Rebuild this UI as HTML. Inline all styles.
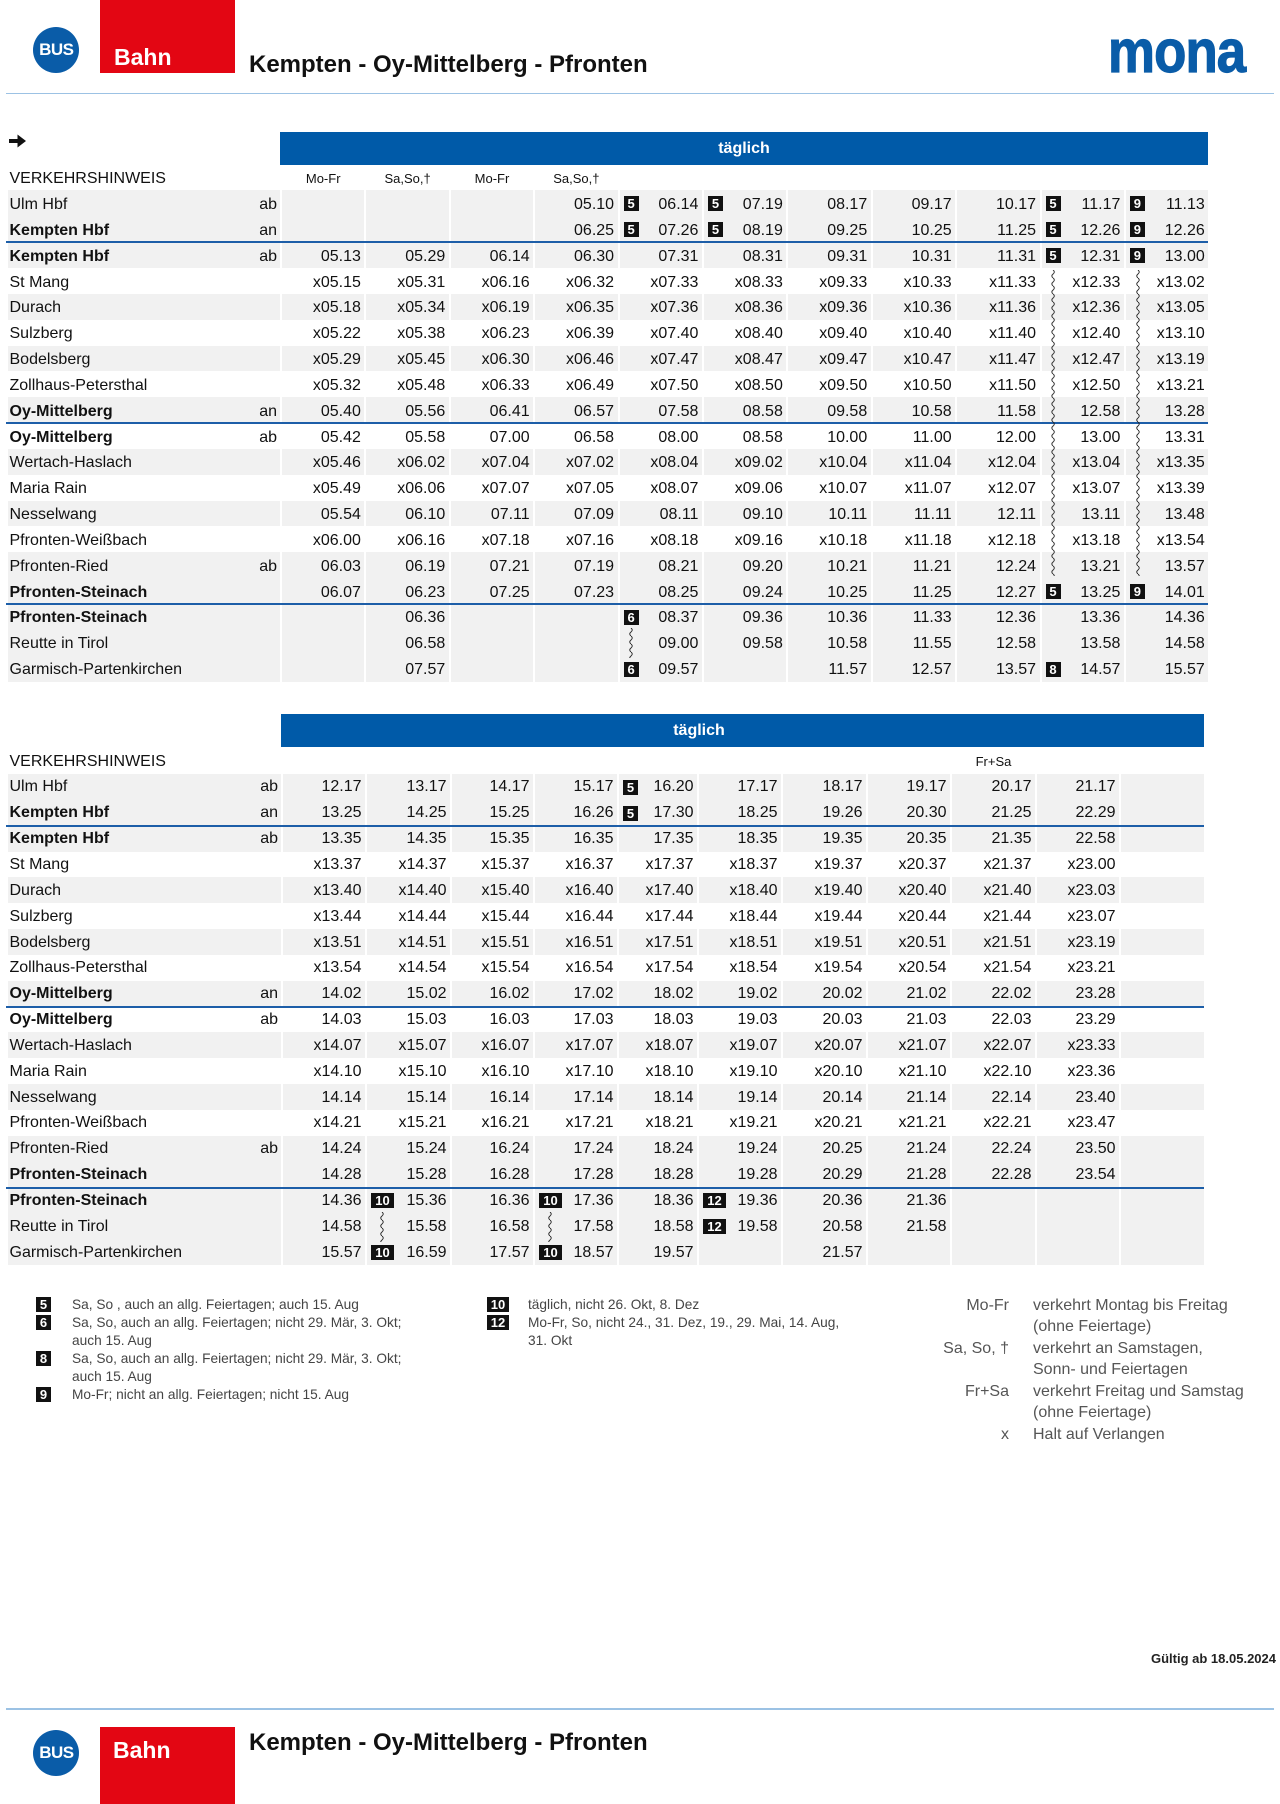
<!DOCTYPE html>
<html lang="de">
<head>
<meta charset="utf-8">
<style>
html,body{margin:0;padding:0}
body{width:1280px;height:1804px;position:relative;background:#fff;overflow:hidden;font-family:"Liberation Sans",Arial,sans-serif;color:#111}
.a{position:absolute}
.t{position:absolute;left:8px;font-size:16px}
.r{display:flex;height:25.85px}
.r>div{flex:none;box-sizing:border-box;height:25.85px;line-height:25.85px;padding-top:1.5px;white-space:nowrap;position:relative}
.t2 .r>div{padding-top:0.5px}
.s{width:272px;display:flex;justify-content:space-between;padding-left:1.5px;padding-right:3px}
.t2 .s{width:273px}
.c{width:84.4px;border-left:2px solid #fff;text-align:right;padding-right:3.5px}
.t2 .c:nth-child(2){width:84px}
.t2 .c:nth-child(3){width:85px}
.t2 .c:nth-child(4){width:83px}
.t2 .c:nth-child(5){width:84px}
.t2 .c:nth-child(6){width:80px}
.t2 .c:nth-child(7){width:84px}
.t2 .c:nth-child(8){width:85px}
.t2 .c:nth-child(9){width:84px}
.t2 .c:nth-child(10){width:85px}
.t2 .c:nth-child(11){width:84px}
.t2 .c:nth-child(12){width:85px}
.g>div{background:#f1f1f1}
.hr .c{text-align:center;padding-right:0;font-size:13px}
.bn{font-weight:bold}
.n{position:absolute;left:4px;top:6px;width:15px;height:15px;background:#111;color:#fff;font:bold 13px/15px "Liberation Sans",Arial,sans-serif;text-align:center}
.n.d{width:23px;height:15.5px;top:5.5px;line-height:15.5px}
.bar{position:absolute;background:#005aa8;height:33px;color:#fff;font-weight:bold;font-size:16px;line-height:33px;text-align:center}
.bl{position:absolute;height:2px;background:#1d5ea8}
.fn{position:absolute;font-size:13.7px;line-height:18px;color:#444;white-space:nowrap}
.fb{position:absolute;background:#111;color:#fff;font:bold 13px/15px "Liberation Sans",Arial,sans-serif;text-align:center;height:15px;width:15px}
.lg{position:absolute;font-size:16px;line-height:21.45px;color:#555;white-space:nowrap}
</style>
</head>
<body>

<!-- HEADER -->
<div class="a" style="left:33.3px;top:27px;width:46px;height:46px;border-radius:50%;background:#0a5ca8;color:#fff;font-weight:bold;font-size:17px;line-height:46px;text-align:center;letter-spacing:-0.5px">BUS</div>
<div class="a" style="left:100px;top:0;width:135px;height:73px;background:#e30613"></div>
<div class="a" style="left:114px;top:45.5px;color:#fff;font-weight:bold;font-size:23px;line-height:23px">Bahn</div>
<div class="a" style="left:249px;top:52.7px;font-weight:bold;font-size:24px;line-height:24px;color:#111;white-space:nowrap">Kempten - Oy-Mittelberg - Pfronten</div>
<div class="a" style="left:1108px;top:22.2px;font-weight:bold;font-size:60px;line-height:60px;color:#0a5ca8;-webkit-text-stroke:1.2px #0a5ca8;transform:scaleX(0.88);transform-origin:0 0;letter-spacing:-1px">mona</div>
<div class="a" style="left:6px;top:92.5px;width:1268px;height:1.5px;background:#9cc2e4"></div>

<svg class="a" style="left:0;top:0" width="40" height="160">
<polygon points="9,139 17.5,139 17.5,134.5 26,141 17.5,147.5 17.5,143 9,143" fill="#111"/>
</svg>

<!-- TABLE 1 -->
<div class="bar" style="left:280px;top:132px;width:928px">täglich</div>

<div class="t t1" style="top:164.65px">
<div class="r hr"><div class="s"><span>VERKEHRSHINWEIS</span></div><div class="c">Mo-Fr</div><div class="c">Sa,So,†</div><div class="c">Mo-Fr</div><div class="c">Sa,So,†</div><div class="c"></div><div class="c"></div><div class="c"></div><div class="c"></div><div class="c"></div><div class="c"></div><div class="c"></div></div>

<div class="r g"><div class="s"><span>Ulm Hbf</span><span>ab</span></div><div class="c"></div><div class="c"></div><div class="c"></div><div class="c">05.10</div><div class="c"><span class="n">5</span>06.14</div><div class="c"><span class="n">5</span>07.19</div><div class="c">08.17</div><div class="c">09.17</div><div class="c">10.17</div><div class="c"><span class="n">5</span>11.17</div><div class="c"><span class="n">9</span>11.13</div></div>

<div class="r g"><div class="s"><span class="bn">Kempten Hbf</span><span>an</span></div><div class="c"></div><div class="c"></div><div class="c"></div><div class="c">06.25</div><div class="c"><span class="n">5</span>07.26</div><div class="c"><span class="n">5</span>08.19</div><div class="c">09.25</div><div class="c">10.25</div><div class="c">11.25</div><div class="c"><span class="n">5</span>12.26</div><div class="c"><span class="n">9</span>12.26</div></div>

<div class="r g"><div class="s"><span class="bn">Kempten Hbf</span><span>ab</span></div><div class="c">05.13</div><div class="c">05.29</div><div class="c">06.14</div><div class="c">06.30</div><div class="c">07.31</div><div class="c">08.31</div><div class="c">09.31</div><div class="c">10.31</div><div class="c">11.31</div><div class="c"><span class="n">5</span>12.31</div><div class="c"><span class="n">9</span>13.00</div></div>

<div class="r"><div class="s"><span>St Mang</span></div><div class="c">x05.15</div><div class="c">x05.31</div><div class="c">x06.16</div><div class="c">x06.32</div><div class="c">x07.33</div><div class="c">x08.33</div><div class="c">x09.33</div><div class="c">x10.33</div><div class="c">x11.33</div><div class="c">x12.33</div><div class="c">x13.02</div></div>

<div class="r g"><div class="s"><span>Durach</span></div><div class="c">x05.18</div><div class="c">x05.34</div><div class="c">x06.19</div><div class="c">x06.35</div><div class="c">x07.36</div><div class="c">x08.36</div><div class="c">x09.36</div><div class="c">x10.36</div><div class="c">x11.36</div><div class="c">x12.36</div><div class="c">x13.05</div></div>

<div class="r"><div class="s"><span>Sulzberg</span></div><div class="c">x05.22</div><div class="c">x05.38</div><div class="c">x06.23</div><div class="c">x06.39</div><div class="c">x07.40</div><div class="c">x08.40</div><div class="c">x09.40</div><div class="c">x10.40</div><div class="c">x11.40</div><div class="c">x12.40</div><div class="c">x13.10</div></div>

<div class="r g"><div class="s"><span>Bodelsberg</span></div><div class="c">x05.29</div><div class="c">x05.45</div><div class="c">x06.30</div><div class="c">x06.46</div><div class="c">x07.47</div><div class="c">x08.47</div><div class="c">x09.47</div><div class="c">x10.47</div><div class="c">x11.47</div><div class="c">x12.47</div><div class="c">x13.19</div></div>

<div class="r"><div class="s"><span>Zollhaus-Petersthal</span></div><div class="c">x05.32</div><div class="c">x05.48</div><div class="c">x06.33</div><div class="c">x06.49</div><div class="c">x07.50</div><div class="c">x08.50</div><div class="c">x09.50</div><div class="c">x10.50</div><div class="c">x11.50</div><div class="c">x12.50</div><div class="c">x13.21</div></div>

<div class="r g"><div class="s"><span class="bn">Oy-Mittelberg</span><span>an</span></div><div class="c">05.40</div><div class="c">05.56</div><div class="c">06.41</div><div class="c">06.57</div><div class="c">07.58</div><div class="c">08.58</div><div class="c">09.58</div><div class="c">10.58</div><div class="c">11.58</div><div class="c">12.58</div><div class="c">13.28</div></div>

<div class="r"><div class="s"><span class="bn">Oy-Mittelberg</span><span>ab</span></div><div class="c">05.42</div><div class="c">05.58</div><div class="c">07.00</div><div class="c">06.58</div><div class="c">08.00</div><div class="c">08.58</div><div class="c">10.00</div><div class="c">11.00</div><div class="c">12.00</div><div class="c">13.00</div><div class="c">13.31</div></div>

<div class="r g"><div class="s"><span>Wertach-Haslach</span></div><div class="c">x05.46</div><div class="c">x06.02</div><div class="c">x07.04</div><div class="c">x07.02</div><div class="c">x08.04</div><div class="c">x09.02</div><div class="c">x10.04</div><div class="c">x11.04</div><div class="c">x12.04</div><div class="c">x13.04</div><div class="c">x13.35</div></div>

<div class="r"><div class="s"><span>Maria Rain</span></div><div class="c">x05.49</div><div class="c">x06.06</div><div class="c">x07.07</div><div class="c">x07.05</div><div class="c">x08.07</div><div class="c">x09.06</div><div class="c">x10.07</div><div class="c">x11.07</div><div class="c">x12.07</div><div class="c">x13.07</div><div class="c">x13.39</div></div>

<div class="r g"><div class="s"><span>Nesselwang</span></div><div class="c">05.54</div><div class="c">06.10</div><div class="c">07.11</div><div class="c">07.09</div><div class="c">08.11</div><div class="c">09.10</div><div class="c">10.11</div><div class="c">11.11</div><div class="c">12.11</div><div class="c">13.11</div><div class="c">13.48</div></div>

<div class="r"><div class="s"><span>Pfronten-Weißbach</span></div><div class="c">x06.00</div><div class="c">x06.16</div><div class="c">x07.18</div><div class="c">x07.16</div><div class="c">x08.18</div><div class="c">x09.16</div><div class="c">x10.18</div><div class="c">x11.18</div><div class="c">x12.18</div><div class="c">x13.18</div><div class="c">x13.54</div></div>

<div class="r g"><div class="s"><span>Pfronten-Ried</span><span>ab</span></div><div class="c">06.03</div><div class="c">06.19</div><div class="c">07.21</div><div class="c">07.19</div><div class="c">08.21</div><div class="c">09.20</div><div class="c">10.21</div><div class="c">11.21</div><div class="c">12.24</div><div class="c">13.21</div><div class="c">13.57</div></div>

<div class="r g"><div class="s"><span class="bn">Pfronten-Steinach</span></div><div class="c">06.07</div><div class="c">06.23</div><div class="c">07.25</div><div class="c">07.23</div><div class="c">08.25</div><div class="c">09.24</div><div class="c">10.25</div><div class="c">11.25</div><div class="c">12.27</div><div class="c"><span class="n">5</span>13.25</div><div class="c"><span class="n">9</span>14.01</div></div>

<div class="r g"><div class="s"><span class="bn">Pfronten-Steinach</span></div><div class="c"></div><div class="c">06.36</div><div class="c"></div><div class="c"></div><div class="c"><span class="n">6</span>08.37</div><div class="c">09.36</div><div class="c">10.36</div><div class="c">11.33</div><div class="c">12.36</div><div class="c">13.36</div><div class="c">14.36</div></div>

<div class="r g"><div class="s"><span>Reutte in Tirol</span></div><div class="c"></div><div class="c">06.58</div><div class="c"></div><div class="c"></div><div class="c">09.00</div><div class="c">09.58</div><div class="c">10.58</div><div class="c">11.55</div><div class="c">12.58</div><div class="c">13.58</div><div class="c">14.58</div></div>

<div class="r g"><div class="s"><span>Garmisch-Partenkirchen</span></div><div class="c"></div><div class="c">07.57</div><div class="c"></div><div class="c"></div><div class="c"><span class="n">6</span>09.57</div><div class="c"></div><div class="c">11.57</div><div class="c">12.57</div><div class="c">13.57</div><div class="c"><span class="n">8</span>14.57</div><div class="c">15.57</div></div>
</div>

<div class="bl" style="left:6px;top:241.2px;width:1202.4px"></div>
<div class="bl" style="left:6px;top:422.15px;width:1202.4px"></div>
<div class="bl" style="left:6px;top:603.1px;width:1202.4px"></div>

<!-- TABLE 2 -->
<div class="bar" style="left:281px;top:714px;width:923px"></div>
<div class="a" style="left:649px;top:714px;width:100px;height:33px;line-height:33px;text-align:center;color:#fff;font-weight:bold;font-size:16px">täglich</div>

<div class="t t2" style="top:748.15px">
<div class="r hr"><div class="s"><span>VERKEHRSHINWEIS</span></div><div class="c"></div><div class="c"></div><div class="c"></div><div class="c"></div><div class="c"></div><div class="c"></div><div class="c"></div><div class="c"></div><div class="c">Fr+Sa</div><div class="c"></div><div class="c"></div></div>

<div class="r g"><div class="s"><span>Ulm Hbf</span><span>ab</span></div><div class="c">12.17</div><div class="c">13.17</div><div class="c">14.17</div><div class="c">15.17</div><div class="c"><span class="n">5</span>16.20</div><div class="c">17.17</div><div class="c">18.17</div><div class="c">19.17</div><div class="c">20.17</div><div class="c">21.17</div><div class="c"></div></div>

<div class="r g"><div class="s"><span class="bn">Kempten Hbf</span><span>an</span></div><div class="c">13.25</div><div class="c">14.25</div><div class="c">15.25</div><div class="c">16.26</div><div class="c"><span class="n">5</span>17.30</div><div class="c">18.25</div><div class="c">19.26</div><div class="c">20.30</div><div class="c">21.25</div><div class="c">22.29</div><div class="c"></div></div>

<div class="r g"><div class="s"><span class="bn">Kempten Hbf</span><span>ab</span></div><div class="c">13.35</div><div class="c">14.35</div><div class="c">15.35</div><div class="c">16.35</div><div class="c">17.35</div><div class="c">18.35</div><div class="c">19.35</div><div class="c">20.35</div><div class="c">21.35</div><div class="c">22.58</div><div class="c"></div></div>

<div class="r"><div class="s"><span>St Mang</span></div><div class="c">x13.37</div><div class="c">x14.37</div><div class="c">x15.37</div><div class="c">x16.37</div><div class="c">x17.37</div><div class="c">x18.37</div><div class="c">x19.37</div><div class="c">x20.37</div><div class="c">x21.37</div><div class="c">x23.00</div><div class="c"></div></div>

<div class="r g"><div class="s"><span>Durach</span></div><div class="c">x13.40</div><div class="c">x14.40</div><div class="c">x15.40</div><div class="c">x16.40</div><div class="c">x17.40</div><div class="c">x18.40</div><div class="c">x19.40</div><div class="c">x20.40</div><div class="c">x21.40</div><div class="c">x23.03</div><div class="c"></div></div>

<div class="r"><div class="s"><span>Sulzberg</span></div><div class="c">x13.44</div><div class="c">x14.44</div><div class="c">x15.44</div><div class="c">x16.44</div><div class="c">x17.44</div><div class="c">x18.44</div><div class="c">x19.44</div><div class="c">x20.44</div><div class="c">x21.44</div><div class="c">x23.07</div><div class="c"></div></div>

<div class="r g"><div class="s"><span>Bodelsberg</span></div><div class="c">x13.51</div><div class="c">x14.51</div><div class="c">x15.51</div><div class="c">x16.51</div><div class="c">x17.51</div><div class="c">x18.51</div><div class="c">x19.51</div><div class="c">x20.51</div><div class="c">x21.51</div><div class="c">x23.19</div><div class="c"></div></div>

<div class="r"><div class="s"><span>Zollhaus-Petersthal</span></div><div class="c">x13.54</div><div class="c">x14.54</div><div class="c">x15.54</div><div class="c">x16.54</div><div class="c">x17.54</div><div class="c">x18.54</div><div class="c">x19.54</div><div class="c">x20.54</div><div class="c">x21.54</div><div class="c">x23.21</div><div class="c"></div></div>

<div class="r g"><div class="s"><span class="bn">Oy-Mittelberg</span><span>an</span></div><div class="c">14.02</div><div class="c">15.02</div><div class="c">16.02</div><div class="c">17.02</div><div class="c">18.02</div><div class="c">19.02</div><div class="c">20.02</div><div class="c">21.02</div><div class="c">22.02</div><div class="c">23.28</div><div class="c"></div></div>

<div class="r"><div class="s"><span class="bn">Oy-Mittelberg</span><span>ab</span></div><div class="c">14.03</div><div class="c">15.03</div><div class="c">16.03</div><div class="c">17.03</div><div class="c">18.03</div><div class="c">19.03</div><div class="c">20.03</div><div class="c">21.03</div><div class="c">22.03</div><div class="c">23.29</div><div class="c"></div></div>

<div class="r g"><div class="s"><span>Wertach-Haslach</span></div><div class="c">x14.07</div><div class="c">x15.07</div><div class="c">x16.07</div><div class="c">x17.07</div><div class="c">x18.07</div><div class="c">x19.07</div><div class="c">x20.07</div><div class="c">x21.07</div><div class="c">x22.07</div><div class="c">x23.33</div><div class="c"></div></div>

<div class="r"><div class="s"><span>Maria Rain</span></div><div class="c">x14.10</div><div class="c">x15.10</div><div class="c">x16.10</div><div class="c">x17.10</div><div class="c">x18.10</div><div class="c">x19.10</div><div class="c">x20.10</div><div class="c">x21.10</div><div class="c">x22.10</div><div class="c">x23.36</div><div class="c"></div></div>

<div class="r g"><div class="s"><span>Nesselwang</span></div><div class="c">14.14</div><div class="c">15.14</div><div class="c">16.14</div><div class="c">17.14</div><div class="c">18.14</div><div class="c">19.14</div><div class="c">20.14</div><div class="c">21.14</div><div class="c">22.14</div><div class="c">23.40</div><div class="c"></div></div>

<div class="r"><div class="s"><span>Pfronten-Weißbach</span></div><div class="c">x14.21</div><div class="c">x15.21</div><div class="c">x16.21</div><div class="c">x17.21</div><div class="c">x18.21</div><div class="c">x19.21</div><div class="c">x20.21</div><div class="c">x21.21</div><div class="c">x22.21</div><div class="c">x23.47</div><div class="c"></div></div>

<div class="r g"><div class="s"><span>Pfronten-Ried</span><span>ab</span></div><div class="c">14.24</div><div class="c">15.24</div><div class="c">16.24</div><div class="c">17.24</div><div class="c">18.24</div><div class="c">19.24</div><div class="c">20.25</div><div class="c">21.24</div><div class="c">22.24</div><div class="c">23.50</div><div class="c"></div></div>

<div class="r g"><div class="s"><span class="bn">Pfronten-Steinach</span></div><div class="c">14.28</div><div class="c">15.28</div><div class="c">16.28</div><div class="c">17.28</div><div class="c">18.28</div><div class="c">19.28</div><div class="c">20.29</div><div class="c">21.28</div><div class="c">22.28</div><div class="c">23.54</div><div class="c"></div></div>

<div class="r g"><div class="s"><span class="bn">Pfronten-Steinach</span></div><div class="c">14.36</div><div class="c"><span class="n d">10</span>15.36</div><div class="c">16.36</div><div class="c"><span class="n d">10</span>17.36</div><div class="c">18.36</div><div class="c"><span class="n d">12</span>19.36</div><div class="c">20.36</div><div class="c">21.36</div><div class="c"></div><div class="c"></div><div class="c"></div></div>

<div class="r g"><div class="s"><span>Reutte in Tirol</span></div><div class="c">14.58</div><div class="c">15.58</div><div class="c">16.58</div><div class="c">17.58</div><div class="c">18.58</div><div class="c"><span class="n d">12</span>19.58</div><div class="c">20.58</div><div class="c">21.58</div><div class="c"></div><div class="c"></div><div class="c"></div></div>

<div class="r g"><div class="s"><span>Garmisch-Partenkirchen</span></div><div class="c">15.57</div><div class="c"><span class="n d">10</span>16.59</div><div class="c">17.57</div><div class="c"><span class="n d">10</span>18.57</div><div class="c">19.57</div><div class="c"></div><div class="c">21.57</div><div class="c"></div><div class="c"></div><div class="c"></div><div class="c"></div></div>
</div>

<div class="bl" style="left:6px;top:824.7px;width:1198px"></div>
<div class="bl" style="left:6px;top:1005.65px;width:1198px"></div>
<div class="bl" style="left:6px;top:1186.6px;width:1198px"></div>

<!-- WAVY CONTINUATION LINES -->
<svg class="a" style="left:0;top:0" width="1280" height="1804">
<defs>
<pattern id="w" width="6" height="8" patternUnits="userSpaceOnUse">
<path d="M3 0 Q5.5 2 3 4 Q0.5 6 3 8" fill="none" stroke="#222" stroke-width="0.9"/>
</pattern>
</defs>
<rect transform="translate(1050.1,270)" width="6" height="306" fill="url(#w)"/>
<rect transform="translate(1135,270)" width="6" height="306" fill="url(#w)"/>
<rect transform="translate(628,628)" width="6" height="30" fill="url(#w)"/>
<rect transform="translate(379,1212)" width="6" height="30" fill="url(#w)"/>
<rect transform="translate(547,1212)" width="6" height="30" fill="url(#w)"/>
</svg>

<!-- FOOTNOTES -->
<div class="fb" style="left:36px;top:1297px">5</div>
<div class="fb" style="left:36px;top:1315px">6</div>
<div class="fb" style="left:36px;top:1351px">8</div>
<div class="fb" style="left:36px;top:1387px">9</div>
<div class="fn" style="left:72px;top:1295.6px">Sa, So , auch an allg. Feiertagen; auch 15. Aug<br>Sa, So, auch an allg. Feiertagen; nicht 29. Mär, 3. Okt;<br>auch 15. Aug<br>Sa, So, auch an allg. Feiertagen; nicht 29. Mär, 3. Okt;<br>auch 15. Aug<br>Mo-Fr; nicht an allg. Feiertagen; nicht 15. Aug</div>

<div class="fb" style="left:487px;top:1297px;width:22px">10</div>
<div class="fb" style="left:487px;top:1315px;width:22px">12</div>
<div class="fn" style="left:528px;top:1295.6px">täglich, nicht 26. Okt, 8. Dez<br>Mo-Fr, So, nicht 24., 31. Dez, 19., 29. Mai, 14. Aug,<br>31. Okt</div>

<div class="lg" style="left:880px;top:1295px;width:129px;text-align:right">Mo-Fr<br>&nbsp;<br>Sa, So, †<br>&nbsp;<br>Fr+Sa<br>&nbsp;<br>x</div>
<div class="lg" style="left:1033px;top:1295px">verkehrt Montag bis Freitag<br>(ohne Feiertage)<br>verkehrt an Samstagen,<br>Sonn- und Feiertagen<br>verkehrt Freitag und Samstag<br>(ohne Feiertage)<br>Halt auf Verlangen</div>

<div class="a" style="right:4px;top:1651px;font-weight:bold;font-size:13px;line-height:16px;color:#222;white-space:nowrap">Gültig ab 18.05.2024</div>

<!-- FOOTER -->
<div class="a" style="left:6px;top:1708px;width:1268px;height:1.5px;background:#9cc2e4"></div>
<div class="a" style="left:33.4px;top:1730px;width:46px;height:46px;border-radius:50%;background:#0a5ca8;color:#fff;font-weight:bold;font-size:17px;line-height:46px;text-align:center;letter-spacing:-0.5px">BUS</div>
<div class="a" style="left:100px;top:1727px;width:135px;height:77px;background:#e30613"></div>
<div class="a" style="left:113px;top:1738.5px;color:#fff;font-weight:bold;font-size:23px;line-height:23px">Bahn</div>
<div class="a" style="left:249px;top:1730.7px;font-weight:bold;font-size:24px;line-height:24px;color:#111;white-space:nowrap">Kempten - Oy-Mittelberg - Pfronten</div>

</body>
</html>
